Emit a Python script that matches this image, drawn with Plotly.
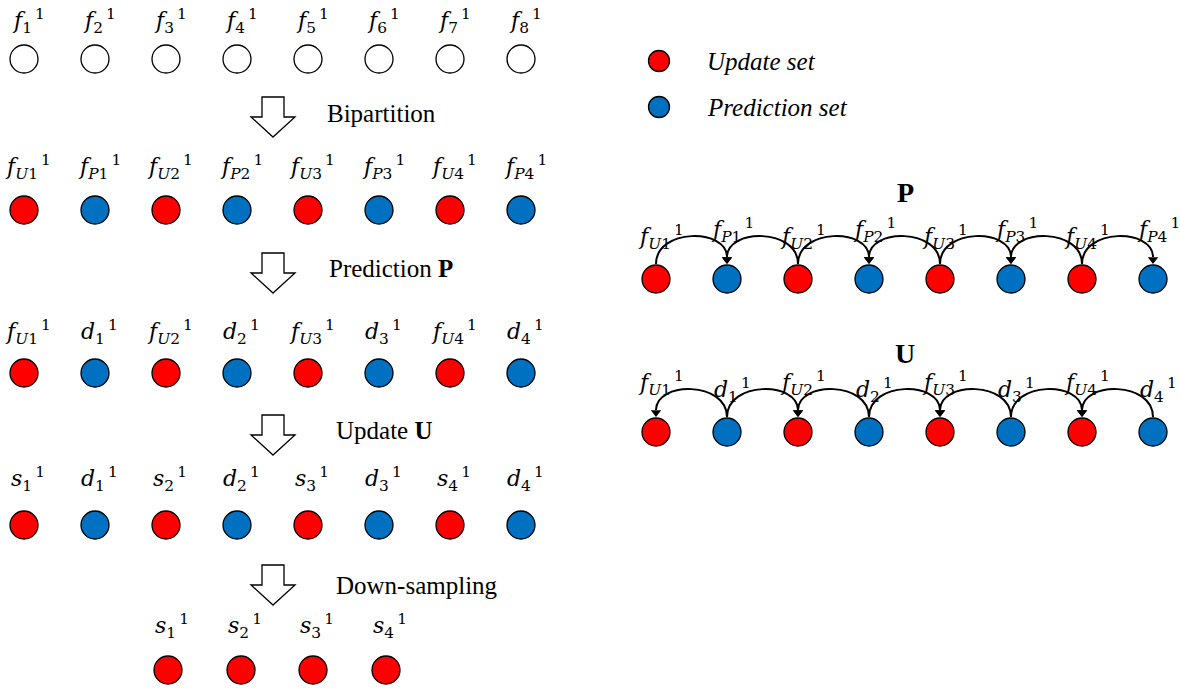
import plotly.graph_objects as go

W, H = 1180, 692

# ---- data (diagram layout) ----
col_x = [24, 95, 166, 237, 308, 379, 450, 521]
down_x = [168, 241, 313, 386]
row_y = [59, 210, 373, 525, 670]
label_y = [21, 167, 332, 479, 626]

RED = "#FF0000"
BLUE = "#0070C0"
WHITE = "#FFFFFF"

row_colors = [
    [WHITE] * 8,
    [RED, BLUE] * 4,
    [RED, BLUE] * 4,
    [RED, BLUE] * 4,
    [RED] * 4,
]

row1_labels = [("f", "1"), ("f", "2"), ("f", "3"), ("f", "4"),
               ("f", "5"), ("f", "6"), ("f", "7"), ("f", "8")]
row2_labels = [("f", "U1"), ("f", "P1"), ("f", "U2"), ("f", "P2"),
               ("f", "U3"), ("f", "P3"), ("f", "U4"), ("f", "P4")]
row3_labels = [("f", "U1"), ("d", "1"), ("f", "U2"), ("d", "2"),
               ("f", "U3"), ("d", "3"), ("f", "U4"), ("d", "4")]
row4_labels = [("s", "1"), ("d", "1"), ("s", "2"), ("d", "2"),
               ("s", "3"), ("d", "3"), ("s", "4"), ("d", "4")]
row5_labels = [("s", "1"), ("s", "2"), ("s", "3"), ("s", "4")]

step_texts = ["Bipartition", "Prediction <b>P</b>", "Update <b>U</b>", "Down-sampling"]
step_text_x = [325, 327, 334, 334]
step_text_y = [113, 268, 430, 585]
step_arrow_x = 273
step_arrow_top = [97, 253, 415, 565]
step_arrow_tip = [137, 293, 455, 605]

legend_names = ["Update set", "Prediction set"]
legend_colors = [RED, BLUE]
legend_x = 659
legend_y = [61, 107]
legend_text_x = 705

right_x = [656, 727, 798, 869, 940, 1011, 1082, 1153]
right_colors = [RED, BLUE] * 4
p_row_y = 279
u_row_y = 432
p_title_y = 192
u_title_y = 353
title_x = 905
p_labels = row2_labels
u_labels = row3_labels
p_label_y = [237, 230] * 4
u_label_y = [383, 390] * 4
p_arcs = [(0, 1), (2, 1), (2, 3), (4, 3), (4, 5), (6, 5), (6, 7)]
u_arcs = [(1, 0), (1, 2), (3, 2), (3, 4), (5, 4), (5, 6), (7, 6)]

NODE_SIZE = 28
MATH_FONT = dict(family="DejaVu Serif", size=22, color="black")
TEXT_FONT = dict(family="Liberation Serif", size=25, color="black")


def math_label(base, sub):
    s = ""
    for ch in sub:
        s += f"<i>{ch}</i>" if ch.isalpha() else ch
    return f"<i>{base}</i><sub>{s}</sub><sup>\u20091</sup>"


fig = go.Figure()
annotations = []
shapes = []

# ---- left panel nodes ----
left_rows = [row1_labels, row2_labels, row3_labels, row4_labels, row5_labels]
for r, labels in enumerate(left_rows):
    xs = col_x if len(labels) == 8 else down_x
    fig.add_trace(go.Scatter(
        x=xs, y=[row_y[r]] * len(xs), mode="markers",
        marker=dict(size=NODE_SIZE, color=row_colors[r],
                    line=dict(color="black", width=1.3)),
        hoverinfo="skip"))
    for x, (b, s) in zip(xs, labels):
        annotations.append(dict(x=x + 4, y=label_y[r], text=math_label(b, s),
                                showarrow=False, xanchor="center", yanchor="middle",
                                font=MATH_FONT))

# ---- block arrows and step text ----
for t, b in zip(step_arrow_top, step_arrow_tip):
    cx = step_arrow_x
    m = t + (b - t) / 2
    path = (f"M {cx-11},{t} L {cx+11},{t} L {cx+11},{m} L {cx+22},{m} "
            f"L {cx},{b} L {cx-22},{m} L {cx-11},{m} Z")
    shapes.append(dict(type="path", path=path, xref="x", yref="y",
                       line=dict(color="black", width=1.3), fillcolor="white"))
for txt, x, y in zip(step_texts, step_text_x, step_text_y):
    annotations.append(dict(x=x, y=y, text=txt, showarrow=False,
                            xanchor="left", yanchor="middle", font=TEXT_FONT))

# ---- legend ----
fig.add_trace(go.Scatter(
    x=[legend_x] * 2, y=legend_y, mode="markers",
    marker=dict(size=21, color=legend_colors, line=dict(color="black", width=1.3)),
    hoverinfo="skip"))
for name, y in zip(legend_names, legend_y):
    annotations.append(dict(x=legend_text_x, y=y, text=f"<i>{name}</i>", showarrow=False,
                            xanchor="left", yanchor="middle", font=TEXT_FONT))


# ---- right panel ----
def add_lifting_row(cy, labels, label_ys, arcs, title, title_y):
    fig.add_trace(go.Scatter(
        x=right_x, y=[cy] * 8, mode="markers",
        marker=dict(size=NODE_SIZE, color=right_colors,
                    line=dict(color="black", width=1.3)),
        hoverinfo="skip"))
    top = cy - NODE_SIZE / 2 - 1
    tips_x, tips_y = [], []
    for si, di in arcs:
        xs, xd = right_x[si], right_x[di]
        h = 36
        end = top - 7
        path = f"M {xs},{top} C {xs},{top-h} {xd},{top-h} {xd},{end}"
        shapes.append(dict(type="path", path=path, xref="x", yref="y",
                           line=dict(color="black", width=2)))
        tips_x.append(xd)
        tips_y.append(top - 4.5)
    fig.add_trace(go.Scatter(
        x=tips_x, y=tips_y, mode="markers",
        marker=dict(symbol="triangle-down", size=9, color="black",
                    line=dict(width=0)),
        hoverinfo="skip"))
    for x, (b, s), ly in zip(right_x, labels, label_ys):
        annotations.append(dict(x=x + 5, y=ly, text=math_label(b, s),
                                showarrow=False, xanchor="center", yanchor="middle",
                                font=MATH_FONT))
    annotations.append(dict(x=title_x, y=title_y, text=f"<b>{title}</b>", showarrow=False,
                            xanchor="center", yanchor="middle",
                            font=dict(family="Liberation Serif", size=28, color="black")))


add_lifting_row(p_row_y, p_labels, p_label_y, p_arcs, "P", p_title_y)
add_lifting_row(u_row_y, u_labels, u_label_y, u_arcs, "U", u_title_y)

fig.update_layout(
    width=W, height=H,
    margin=dict(l=0, r=0, t=0, b=0),
    paper_bgcolor="white", plot_bgcolor="white",
    showlegend=False,
    xaxis=dict(range=[0, W], visible=False, fixedrange=True),
    yaxis=dict(range=[H, 0], visible=False, fixedrange=True),
    annotations=annotations,
    shapes=shapes,
)

fig.write_html("out.html", config={"displayModeBar": False})

# remove the browser's default page margin so the figure sits at (0, 0)
with open("out.html", "r", encoding="utf-8") as fh:
    html = fh.read()
html = html.replace("<body>", '<body style="margin:0;padding:0;overflow:hidden;">', 1)
with open("out.html", "w", encoding="utf-8") as fh:
    fh.write(html)
